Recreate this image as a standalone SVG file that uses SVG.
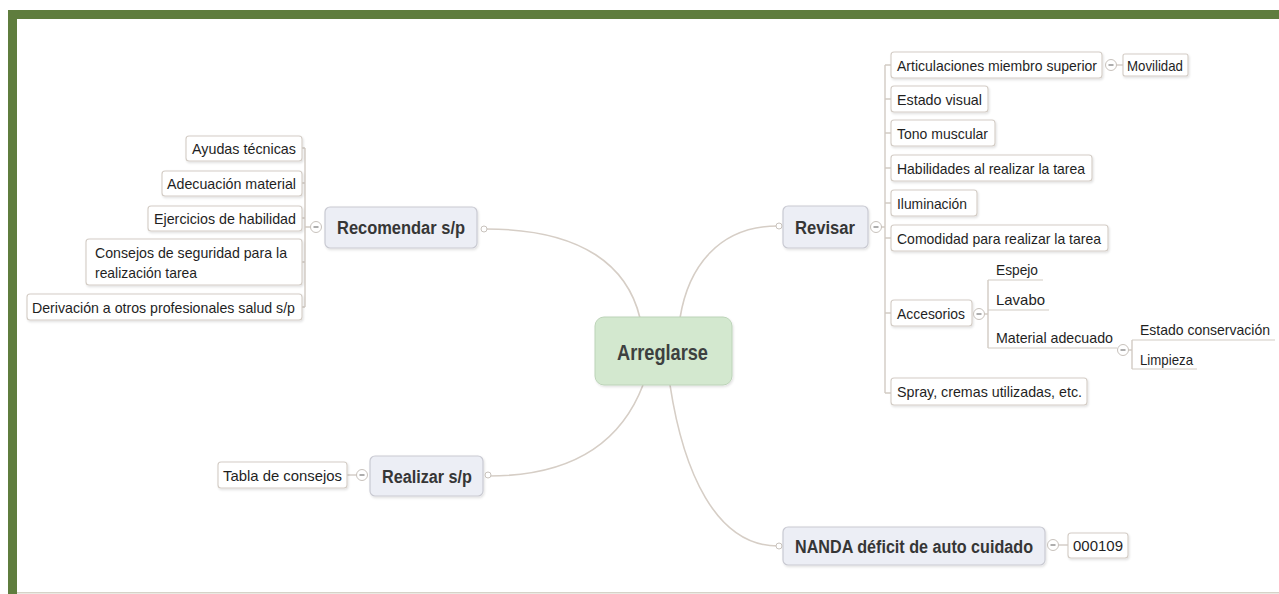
<svg xmlns="http://www.w3.org/2000/svg" width="1279" height="594" viewBox="0 0 1279 594">
<defs>
<style>
.frame{fill:#5f7d3e}
.conn{fill:none;stroke:#d6cec6;stroke-width:1.6}
.spine{fill:none;stroke:#d2cbc4;stroke-width:1.4}
.main{fill:#eceef5;stroke:#c9cad2;stroke-width:1.2}
.sub{fill:#ffffff;stroke:#d3ccc5;stroke-width:1.1}
.center{fill:#d3e8cf;stroke:#bcd3b8;stroke-width:1}
.t{font-family:"Liberation Sans",Arial,sans-serif;font-size:15px;fill:#1f1f1f}
.tm{font-family:"Liberation Sans",Arial,sans-serif;font-size:18px;font-weight:bold;fill:#363636}
.tc{font-family:"Liberation Sans",Arial,sans-serif;font-size:22px;font-weight:bold;fill:#3d4040}
.col{fill:#ffffff;stroke:#c8c2bc;stroke-width:1}
.dash{stroke:#777;stroke-width:1.2}
.dot{fill:#ffffff;stroke:#c8c2bc;stroke-width:1}
.ul{stroke:#d2cbc4;stroke-width:1.2}
</style>
<filter id="sh" x="-10%" y="-10%" width="130%" height="140%">
<feDropShadow dx="1" dy="1.5" stdDeviation="1.2" flood-color="#000" flood-opacity="0.12"/>
</filter>
</defs>
<rect width="1279" height="594" fill="#ffffff"/>
<rect class="frame" x="8" y="10" width="1271" height="9"/>
<rect class="frame" x="8" y="10" width="9" height="584"/>
<rect x="17" y="592" width="1262" height="1.5" fill="#d6d3c8"/>

<g id="connectors">
<path class="conn" d="M486,229 C585,229 628,268 640,318"/>
<path class="conn" d="M778,226 C718,226 688,268 680,318"/>
<path class="conn" d="M489,476 C585,476 625,432 643,385"/>
<path class="conn" d="M778,546 C715,546 683,470 670,385"/>
<path class="spine" d="M305,148 V307 M302,148 H305 M302,183 H305 M302,218 H305 M302,262 H305 M302,307 H305 M305,227 H311"/>
<path class="spine" d="M347,475 H357"/>
<path class="spine" d="M881,227 H885 M885,65 V393 M885,65 H891 M885,99 H891 M885,133 H891 M885,168 H891 M885,203 H891 M885,238 H891 M885,313 H891 M885,393 H891"/>
<path class="spine" d="M1116,65 H1123"/>
<path class="spine" d="M983,314 H988 M988,280 V348"/>
<path class="ul" d="M988,280 H1043 M988,310 H1049 M988,348 H1117"/>
<path class="spine" d="M1128,350 H1132 M1132,340 V369"/>
<path class="ul" d="M1132,340 H1275 M1132,369 H1197"/>
<path class="spine" d="M1058,545 H1068"/>
</g>

<g id="n-arreglarse">
<rect class="center" x="595" y="317" width="137" height="68" rx="9" filter="url(#sh)"/>
<text class="tc" x="617" y="360" textLength="91" lengthAdjust="spacingAndGlyphs">Arreglarse</text>
</g>

<g id="n-recomendar">
<rect class="main" x="325" y="207" width="152" height="41" rx="5" filter="url(#sh)"/>
<text class="tm" x="337" y="234" textLength="128" lengthAdjust="spacingAndGlyphs">Recomendar s/p</text>
<circle class="dot" cx="484" cy="229" r="3"/>
<circle class="col" cx="316" cy="227" r="5.5"/><line class="dash" x1="313.5" y1="227" x2="318.5" y2="227"/>
</g>
<g id="n-ayudas">
<rect class="sub" x="186" y="136" width="116" height="25" rx="3" filter="url(#sh)"/>
<text class="t" x="192" y="154" textLength="104" lengthAdjust="spacingAndGlyphs">Ayudas técnicas</text>
</g>
<g id="n-adecuacion">
<rect class="sub" x="162" y="171" width="140" height="25" rx="3" filter="url(#sh)"/>
<text class="t" x="167" y="189" textLength="129" lengthAdjust="spacingAndGlyphs">Adecuación material</text>
</g>
<g id="n-ejercicios">
<rect class="sub" x="148" y="206" width="154" height="25" rx="3" filter="url(#sh)"/>
<text class="t" x="154" y="224" textLength="142" lengthAdjust="spacingAndGlyphs">Ejercicios de habilidad</text>
</g>
<g id="n-consejos">
<rect class="sub" x="86" y="239" width="216" height="46" rx="3" filter="url(#sh)"/>
<text class="t" x="95" y="258" textLength="192" lengthAdjust="spacingAndGlyphs">Consejos de seguridad para la</text>
<text class="t" x="95" y="278" textLength="102" lengthAdjust="spacingAndGlyphs">realización tarea</text>
</g>
<g id="n-derivacion">
<rect class="sub" x="27" y="294" width="275" height="26" rx="3" filter="url(#sh)"/>
<text class="t" x="32" y="313" textLength="263" lengthAdjust="spacingAndGlyphs">Derivación a otros profesionales salud s/p</text>
</g>

<g id="n-realizar">
<rect class="main" x="370" y="456" width="113" height="40" rx="5" filter="url(#sh)"/>
<text class="tm" x="382" y="483" textLength="90" lengthAdjust="spacingAndGlyphs">Realizar s/p</text>
<circle class="dot" cx="488" cy="475" r="3"/>
<circle class="col" cx="362" cy="475" r="5.5"/><line class="dash" x1="359.5" y1="475" x2="364.5" y2="475"/>
</g>
<g id="n-tabla">
<rect class="sub" x="218" y="462" width="129" height="26" rx="3" filter="url(#sh)"/>
<text class="t" x="223" y="481" textLength="119" lengthAdjust="spacingAndGlyphs">Tabla de consejos</text>
</g>

<g id="n-revisar">
<rect class="main" x="783" y="206" width="85" height="42" rx="5" filter="url(#sh)"/>
<text class="tm" x="795" y="234" textLength="60" lengthAdjust="spacingAndGlyphs">Revisar</text>
<circle class="dot" cx="779" cy="226" r="3"/>
<circle class="col" cx="876" cy="227" r="5.5"/><line class="dash" x1="873.5" y1="227" x2="878.5" y2="227"/>
</g>
<g id="n-articulaciones">
<rect class="sub" x="891" y="52" width="211" height="26" rx="3" filter="url(#sh)"/>
<text class="t" x="897" y="71" textLength="200" lengthAdjust="spacingAndGlyphs">Articulaciones miembro superior</text>
<circle class="col" cx="1111" cy="65" r="5.5"/><line class="dash" x1="1108.5" y1="65" x2="1113.5" y2="65"/>
</g>
<g id="n-movilidad">
<rect class="sub" x="1123" y="54" width="65" height="22" rx="2" filter="url(#sh)"/>
<text class="t" x="1127" y="71" textLength="56" lengthAdjust="spacingAndGlyphs">Movilidad</text>
</g>
<g id="n-estadovisual">
<rect class="sub" x="891" y="86" width="97" height="26" rx="3" filter="url(#sh)"/>
<text class="t" x="897" y="105" textLength="85" lengthAdjust="spacingAndGlyphs">Estado visual</text>
</g>
<g id="n-tono">
<rect class="sub" x="891" y="120" width="104" height="26" rx="3" filter="url(#sh)"/>
<text class="t" x="897" y="139" textLength="91" lengthAdjust="spacingAndGlyphs">Tono muscular</text>
</g>
<g id="n-habilidades">
<rect class="sub" x="891" y="155" width="201" height="26" rx="3" filter="url(#sh)"/>
<text class="t" x="897" y="174" textLength="188" lengthAdjust="spacingAndGlyphs">Habilidades al realizar la tarea</text>
</g>
<g id="n-iluminacion">
<rect class="sub" x="891" y="190" width="86" height="26" rx="3" filter="url(#sh)"/>
<text class="t" x="897" y="209" textLength="70" lengthAdjust="spacingAndGlyphs">Iluminación</text>
</g>
<g id="n-comodidad">
<rect class="sub" x="891" y="225" width="217" height="26" rx="3" filter="url(#sh)"/>
<text class="t" x="897" y="244" textLength="204" lengthAdjust="spacingAndGlyphs">Comodidad para realizar la tarea</text>
</g>
<g id="n-accesorios">
<rect class="sub" x="891" y="300" width="81" height="26" rx="3" filter="url(#sh)"/>
<text class="t" x="897" y="319" textLength="68" lengthAdjust="spacingAndGlyphs">Accesorios</text>
<circle class="col" cx="979" cy="314" r="5.5"/><line class="dash" x1="976.5" y1="314" x2="981.5" y2="314"/>
</g>
<g id="n-espejo">
<text class="t" x="996" y="275" textLength="42" lengthAdjust="spacingAndGlyphs">Espejo</text>
</g>
<g id="n-lavabo">
<text class="t" x="996" y="305" textLength="49" lengthAdjust="spacingAndGlyphs">Lavabo</text>
</g>
<g id="n-material">
<text class="t" x="996" y="343" textLength="117" lengthAdjust="spacingAndGlyphs">Material adecuado</text>
<circle class="col" cx="1123" cy="350" r="5.5"/><line class="dash" x1="1120.5" y1="350" x2="1125.5" y2="350"/>
</g>
<g id="n-conservacion">
<text class="t" x="1140" y="335" textLength="130" lengthAdjust="spacingAndGlyphs">Estado conservación</text>
</g>
<g id="n-limpieza">
<text class="t" x="1140" y="365" textLength="53" lengthAdjust="spacingAndGlyphs">Limpieza</text>
</g>
<g id="n-spray">
<rect class="sub" x="891" y="378" width="196" height="27" rx="3" filter="url(#sh)"/>
<text class="t" x="897" y="397" textLength="185" lengthAdjust="spacingAndGlyphs">Spray, cremas utilizadas, etc.</text>
</g>

<g id="n-nanda">
<rect class="main" x="783" y="527" width="262" height="38" rx="5" filter="url(#sh)"/>
<text class="tm" x="795" y="553" textLength="238" lengthAdjust="spacingAndGlyphs">NANDA déficit de auto cuidado</text>
<circle class="dot" cx="779" cy="546" r="3"/>
<circle class="col" cx="1053" cy="545" r="5.5"/><line class="dash" x1="1050.5" y1="545" x2="1055.5" y2="545"/>
</g>
<g id="n-000109">
<rect class="sub" x="1068" y="533" width="60" height="25" rx="3" filter="url(#sh)"/>
<text class="t" x="1073" y="551" textLength="50" lengthAdjust="spacingAndGlyphs">000109</text>
</g>
</svg>
